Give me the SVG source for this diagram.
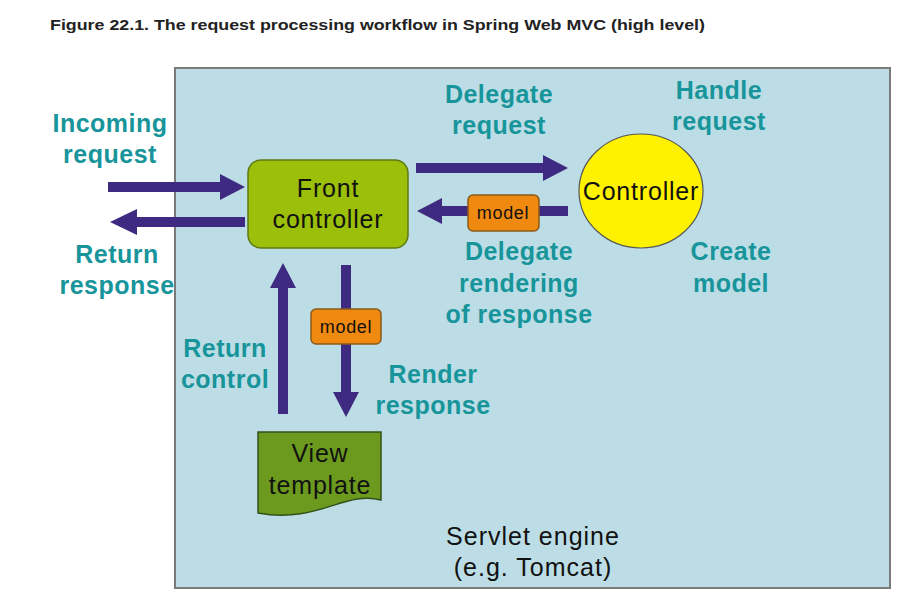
<svg xmlns="http://www.w3.org/2000/svg" width="920" height="593" viewBox="0 0 920 593">
<style>
.lbl{font-family:"Liberation Sans",Arial,sans-serif;font-weight:bold;font-size:25px;letter-spacing:0.5px;fill:#17959b;text-anchor:middle}
.nt{font-family:"Liberation Sans",Arial,sans-serif;font-size:25px;letter-spacing:0.8px;fill:#111;text-anchor:middle}
.mt{font-family:"Liberation Sans",Arial,sans-serif;font-size:18px;letter-spacing:0.7px;fill:#111;text-anchor:middle}
.arr{fill:#3e2a80}
.model{fill:#f0890f;stroke:#8a5a1a;stroke-width:1.5}
</style>
<rect width="920" height="593" fill="#ffffff"/>
<text x="50" y="30" font-family="'Liberation Sans',Arial,sans-serif" font-weight="bold" font-size="15" fill="#222" textLength="655" lengthAdjust="spacingAndGlyphs">Figure 22.1. The request processing workflow in Spring Web MVC (high level)</text>
<g id="servlet-engine">
<rect x="175" y="68" width="715" height="520" fill="#bcdde5" stroke="#7a7a7a" stroke-width="2"/>
<text class="nt" x="533" y="545" font-size="26" style="letter-spacing:1px" fill="#222">Servlet engine</text>
<text class="nt" x="533" y="576" font-size="26" style="letter-spacing:1px" fill="#222">(e.g. Tomcat)</text>
</g>
<g id="connectors">
<path class="arr" d="M108,182 H220 V174 L245,187 L220,200 V192 H108 Z"/>
<path class="arr" d="M245,217 H137 V209 L110,222 L137,235 V227 H245 Z"/>
<path class="arr" d="M416,163 H543 V155 L568,168 L543,181 V173 H416 Z"/>
<path class="arr" d="M568,206 H442 V198 L417,211 L442,224 V216 H568 Z"/>
<path class="arr" d="M278,414 V288 H270 L283,263 L296,288 H288 V414 Z"/>
<path class="arr" d="M341,265 V392 H333 L346,417 L359,392 H351 V265 Z"/>
</g>
<g id="front-controller">
<rect x="248" y="160" width="160" height="88" rx="13" fill="#9cbf0a" stroke="#5e7a10" stroke-width="1.5"/>
<text class="nt" x="328" y="197">Front</text>
<text class="nt" x="328" y="228">controller</text>
</g>
<g id="controller">
<ellipse cx="641" cy="191" rx="62" ry="57" fill="#fff200" stroke="#555" stroke-width="1.2"/>
<text class="nt" x="641" y="200">Controller</text>
</g>
<g id="view-template">
<path d="M258,432 H381 V500 C345,490 318,524 258,513 Z" fill="#6b9a1e" stroke="#34501a" stroke-width="1.5"/>
<text class="nt" x="320" y="462">View</text>
<text class="nt" x="320" y="494">template</text>
</g>
<g id="model-1">
<rect class="model" x="468" y="195" width="71" height="36" rx="5"/>
<text class="mt" x="503" y="219">model</text>
</g>
<g id="model-2">
<rect class="model" x="311" y="309" width="70" height="35" rx="5"/>
<text class="mt" x="346" y="333">model</text>
</g>
<g id="labels">
<text class="lbl" x="110" y="132">Incoming</text>
<text class="lbl" x="110" y="163">request</text>
<text class="lbl" x="117" y="263">Return</text>
<text class="lbl" x="117" y="294">response</text>
<text class="lbl" x="499" y="103">Delegate</text>
<text class="lbl" x="499" y="134">request</text>
<text class="lbl" x="719" y="99">Handle</text>
<text class="lbl" x="719" y="130">request</text>
<text class="lbl" x="519" y="260">Delegate</text>
<text class="lbl" x="519" y="292">rendering</text>
<text class="lbl" x="519" y="323">of response</text>
<text class="lbl" x="731" y="260">Create</text>
<text class="lbl" x="731" y="292">model</text>
<text class="lbl" x="225" y="357">Return</text>
<text class="lbl" x="225" y="388">control</text>
<text class="lbl" x="433" y="383">Render</text>
<text class="lbl" x="433" y="414">response</text>
</g>
</svg>
